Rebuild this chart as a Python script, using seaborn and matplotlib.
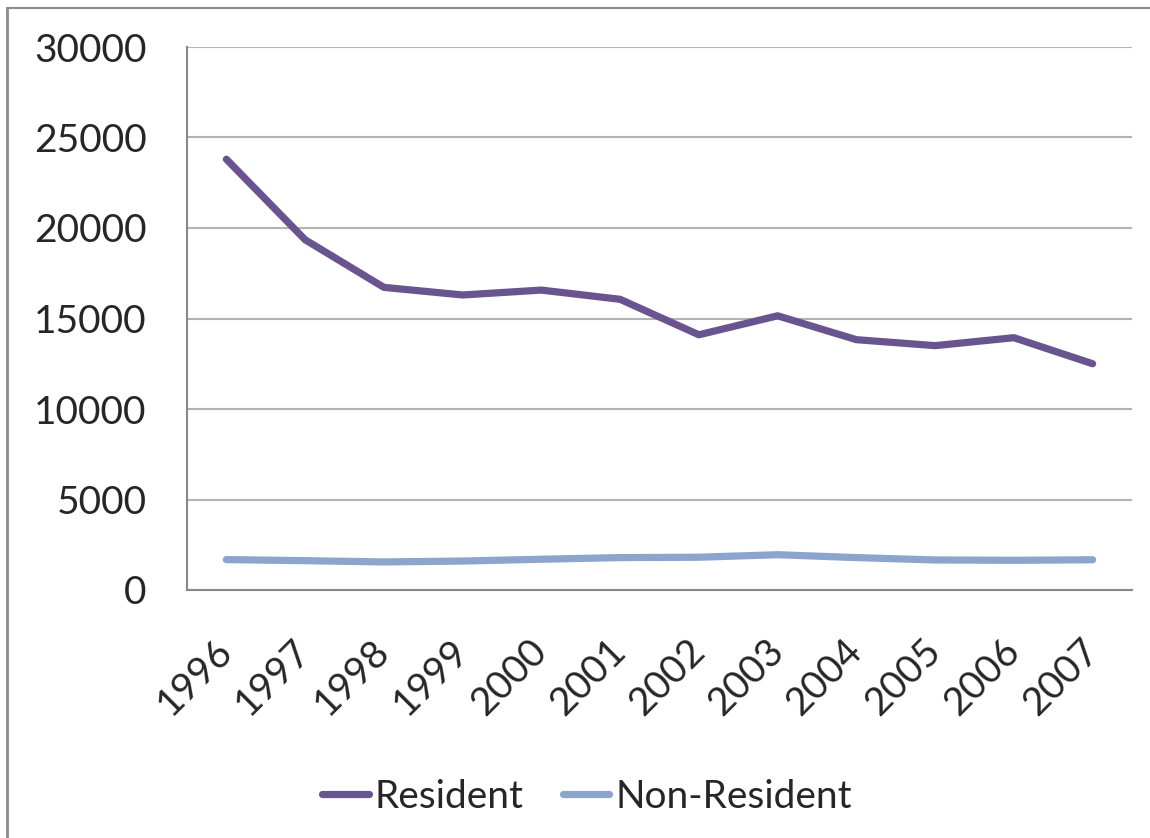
import matplotlib
matplotlib.use("Agg")
import matplotlib.pyplot as plt
from matplotlib.lines import Line2D
import seaborn as sns
import pandas as pd

years = ["1996", "1997", "1998", "1999", "2000", "2001", "2002", "2003", "2004", "2005", "2006", "2007"]
resident = [23800, 19350, 16720, 16300, 16570, 16060, 14100, 15150, 13830, 13500, 13940, 12500]
non_resident = [1680, 1620, 1550, 1600, 1700, 1790, 1810, 1950, 1790, 1660, 1640, 1670]
series_names = ["Resident", "Non-Resident"]
y_ticks = [0, 5000, 10000, 15000, 20000, 25000, 30000]

colors = {"Resident": "#6A5490", "Non-Resident": "#8BA5CC"}

sns.set_theme(style="white")
plt.rcParams["font.family"] = ["Lato", "DejaVu Sans"]

df = pd.DataFrame({
    "Year": years * 2,
    "Value": resident + non_resident,
    "Series": [series_names[0]] * len(years) + [series_names[1]] * len(years),
})

fig = plt.figure(figsize=(11.5, 8.38), dpi=100)
fig.patch.set_facecolor("white")
ax = fig.add_axes([187 / 1150, 1 - 590 / 838, (1132 - 187) / 1150, (590 - 47) / 838])

sns.lineplot(data=df, x="Year", y="Value", hue="Series", palette=colors,
             linewidth=5.2, ax=ax, legend=False, sort=False,
             solid_capstyle="round", solid_joinstyle="round")

ax.set_xlim(-0.5, len(years) - 0.5)
ax.set_ylim(0, 30000)
ax.set_yticks(y_ticks)
ax.set_yticklabels([str(v) for v in y_ticks], fontsize=28)
ax.set_xticks(range(len(years)))
ax.set_xticklabels(years, fontsize=28, rotation=45, ha="right", va="center",
                   rotation_mode="anchor")
ax.tick_params(axis="both", length=0)
ax.tick_params(axis="y", pad=29)
ax.tick_params(axis="x", pad=40)
ax.set_xlabel("")
ax.set_ylabel("")

ax.yaxis.grid(True, color="#B3B3B3", linewidth=1.5)
ax.set_axisbelow(True)
for s in ["top", "right"]:
    ax.spines[s].set_visible(False)
ax.spines["left"].set_color("#888888")
ax.spines["left"].set_linewidth(1.5)
ax.spines["bottom"].set_color("#888888")
ax.spines["bottom"].set_linewidth(1.5)

handles = [Line2D([0], [0], color=colors[n], linewidth=5.2, solid_capstyle="round") for n in series_names]
fig.legend(handles, series_names, loc="center", bbox_to_anchor=(587 / 1150, 1 - 797 / 838),
           ncol=2, frameon=False, fontsize=28, handlelength=1.2, handletextpad=0.15,
           columnspacing=1.0)

# outer chart border (top and left edges visible)
fig.add_artist(Line2D([7 / 1150, 1.0], [1 - 8 / 838, 1 - 8 / 838], color="#8C8C8C", linewidth=1.5,
                      transform=fig.transFigure))
fig.add_artist(Line2D([7 / 1150, 7 / 1150], [0.0, 1 - 8 / 838], color="#8C8C8C", linewidth=2,
                      transform=fig.transFigure))

fig.savefig("out.png", dpi=100)
